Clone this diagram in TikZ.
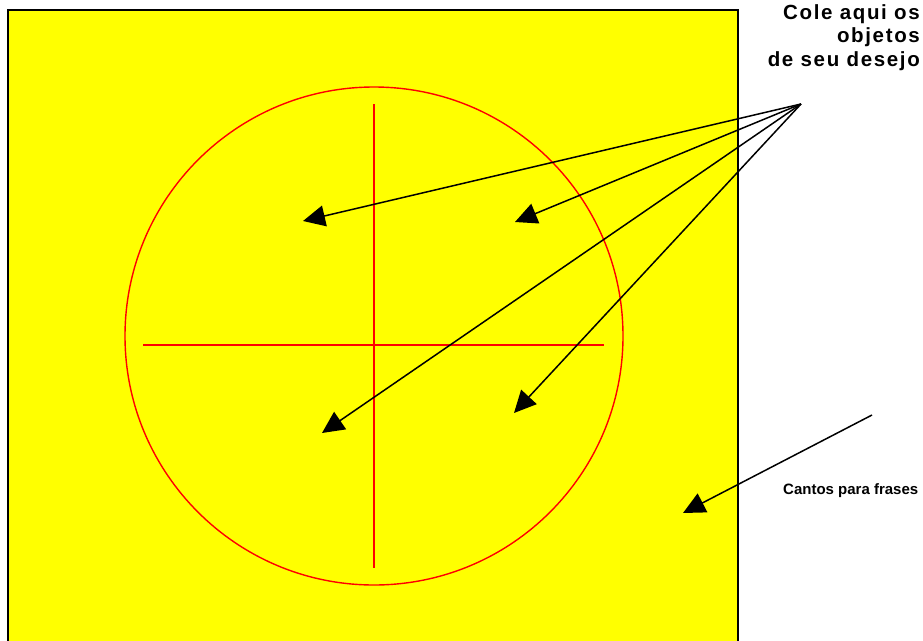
\documentclass[tikz,border=0pt]{standalone}
\usepackage{fontspec}
\setmainfont{Liberation Sans}
\usetikzlibrary{arrows.meta}
\definecolor{boardyellow}{RGB}{255,255,0}
\definecolor{ringred}{RGB}{255,0,0}
\tikzset{
  board/.style={fill=boardyellow},
  edge/.style={draw=black,line width=2pt},
  ring/.style={draw=ringred,line width=1.4pt},
  arr/.style={-{Triangle[length=22pt,width=21pt]},line width=1.5pt},
  lbl/.style={inner sep=0pt,font=\bfseries}
}

\begin{document}
\begin{tikzpicture}[x=1pt,y=-1pt]
\useasboundingbox (0,0) rectangle (923,640);
\fill[board] (8,10) rectangle (738,643);
\draw[edge] (8,643) -- (8,10) -- (738,10) -- (738,643);
\coordinate (c) at (374,336);
\draw[ring] (c) circle [radius=249pt];
\draw[ring] (374,104) -- (374,568);
\draw[ring] (143,345) -- (604,345);
\node[lbl,anchor=north east,align=right,font=\bfseries\fontsize{20.5}{23.5}\selectfont\addfontfeatures{LetterSpace=8}] (cole) at (920,4) {Cole aqui os\\objetos\hspace*{12pt}\\de seu desejo};
\node[lbl,anchor=base west,font=\bfseries\fontsize{15}{18}\selectfont] (cantos) at (783,494) {Cantos para frases};
\coordinate (hub) at (801,104);
\coordinate (p1) at (303,221);
\coordinate (p2) at (515,222);
\coordinate (p3) at (322,433);
\coordinate (p4) at (514,413);
\coordinate (tail) at (872,415);
\coordinate (p5) at (683,513);
\foreach \p in {p1,p2,p3,p4} \draw[arr] (hub) -- (\p);
\draw[arr] (tail) -- (p5);
\end{tikzpicture}
\end{document}
